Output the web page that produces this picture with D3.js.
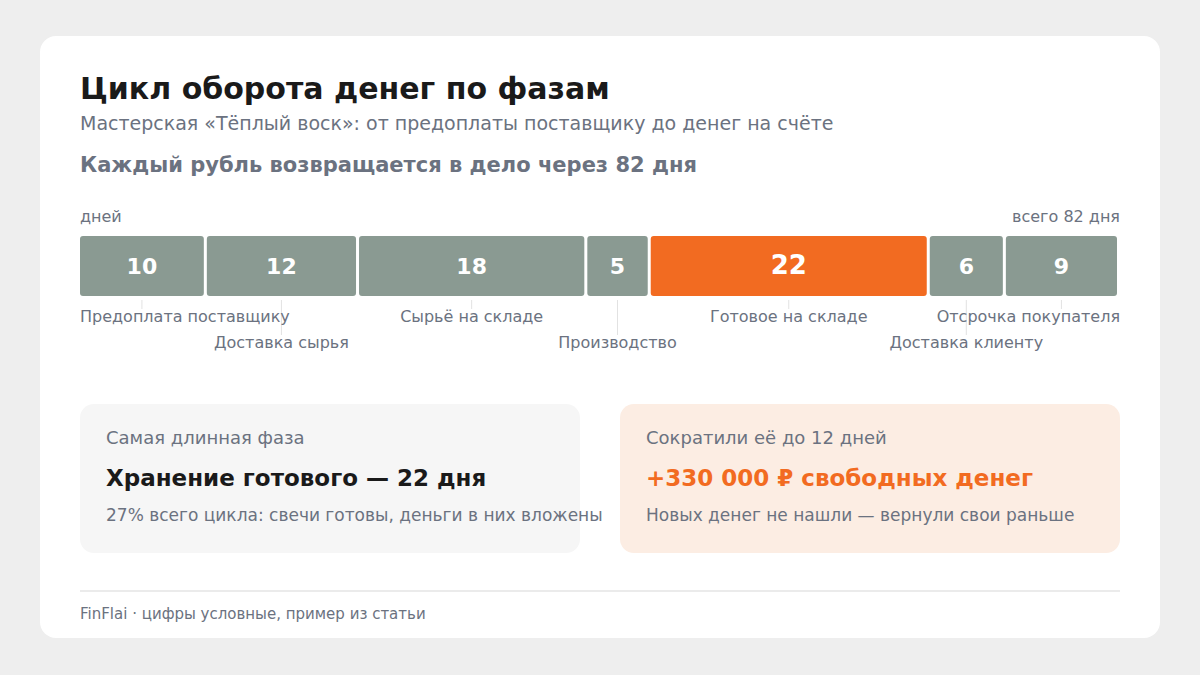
<!DOCTYPE html>
<html>
<head>
<meta charset="utf-8">
<script src="https://cdnjs.cloudflare.com/ajax/libs/d3/7.8.5/d3.min.js"></script>
<style>
  body { margin: 0; background: #eeeeee; }
  svg { display: block; font-family: "DejaVu Sans", sans-serif; }
</style>
</head>
<body>
<script>
// phases of the cash cycle, days
var phases = ["Предоплата поставщику", "Доставка сырья", "Сырьё на складе", "Производство",
              "Готовое на складе", "Доставка клиенту", "Отсрочка покупателя"];
var days = [10, 12, 18, 5, 22, 6, 9];
var highlight = "Готовое на складе";

var W = 1200, H = 675;
var left = 80, right = 1120;
var barTop = 236, barH = 60, gap = 3;

var grayText = "#6b7280";

var svg = d3.select("body").append("svg").attr("width", W).attr("height", H);

// card
svg.append("rect").attr("x", 40).attr("y", 36).attr("width", 1120).attr("height", 602)
    .attr("rx", 16).attr("fill", "#ffffff");

// headings
svg.append("text").attr("x", left).attr("y", 99)
    .attr("font-size", 30).attr("font-weight", "bold").attr("fill", "#1a1a1a")
    .text("Цикл оборота денег по фазам");
svg.append("text").attr("x", left).attr("y", 130)
    .attr("font-size", 19).attr("fill", grayText)
    .text("Мастерская «Тёплый воск»: от предоплаты поставщику до денег на счёте");
var total = d3.sum(days);
svg.append("text").attr("x", left).attr("y", 172)
    .attr("font-size", 21).attr("font-weight", "bold").attr("fill", grayText)
    .text("Каждый рубль возвращается в дело через " + total + " дня");

svg.append("text").attr("x", left).attr("y", 222)
    .attr("font-size", 16).attr("fill", grayText).text("дней");
svg.append("text").attr("x", right).attr("y", 222).attr("text-anchor", "end")
    .attr("font-size", 16).attr("fill", grayText).text("всего " + total + " дня");

// stacked positions
var starts = [];
var acc = 0;
days.forEach(function(d) { starts.push(acc); acc += d; });

var x = d3.scaleLinear().domain([0, total]).range([left, right]);

var rows = phases.map(function(p, i) {
    return { name: p, value: days[i], start: starts[i], i: i };
});

var g = svg.append("g");

g.selectAll("rect.bar")
    .data(rows)
    .enter()
    .append("rect")
    .attr("class", "bar")
    .attr("x", function(d) { return x(d.start); })
    .attr("y", barTop)
    .attr("width", function(d) { return x(d.start + d.value) - x(d.start) - gap; })
    .attr("height", barH)
    .attr("rx", 3)
    .attr("fill", function(d) { return d.name === highlight ? "#f26b21" : "#8a9a92"; });

g.selectAll("text.val")
    .data(rows)
    .enter()
    .append("text")
    .attr("class", "val")
    .attr("x", function(d) { return (x(d.start) + x(d.start + d.value) - gap) / 2; })
    .attr("y", function(d) { return barTop + barH / 2 + 8; })
    .attr("text-anchor", "middle")
    .attr("font-size", function(d) { return d.name === highlight ? 26 : 22; })
    .attr("font-weight", "bold")
    .attr("fill", "#ffffff")
    .text(function(d) { return d.value; });

// tick lines + labels, alternating rows
function cx(d) { return (x(d.start) + x(d.start + d.value) - gap) / 2; }

g.selectAll("line.tick")
    .data(rows)
    .enter()
    .append("line")
    .attr("class", "tick")
    .attr("x1", cx).attr("x2", cx)
    .attr("y1", barTop + barH + 4)
    .attr("y2", function(d) { return d.i % 2 ? 335 : 309; })
    .attr("stroke", "#e2e2e2").attr("stroke-width", 1);

var labels = g.selectAll("text.lbl")
    .data(rows)
    .enter()
    .append("text")
    .attr("class", "lbl")
    .attr("y", function(d) { return d.i % 2 ? 348 : 322; })
    .attr("font-size", 16)
    .attr("fill", grayText)
    .text(function(d) { return d.name; });

labels.each(function(d) {
    var w = this.getComputedTextLength();
    var x0 = cx(d) - w / 2;
    x0 = Math.max(left, Math.min(right - w, x0));
    d3.select(this).attr("x", x0);
});

// info cards
var cards = [
    { x: 80, fill: "#f6f6f6", label: "Самая длинная фаза",
      head: "Хранение готового — 22 дня", headFill: "#1a1a1a",
      sub: "27% всего цикла: свечи готовы, деньги в них вложены" },
    { x: 620, fill: "#fcede3", label: "Сократили её до 12 дней",
      head: "+330 000 ₽ свободных денег", headFill: "#f26b21",
      sub: "Новых денег не нашли — вернули свои раньше" }
];

cards.forEach(function(c) {
    svg.append("rect").attr("x", c.x).attr("y", 404).attr("width", 500).attr("height", 149)
        .attr("rx", 14).attr("fill", c.fill);
    svg.append("text").attr("x", c.x + 26).attr("y", 444)
        .attr("font-size", 18).attr("fill", grayText).text(c.label);
    svg.append("text").attr("x", c.x + 26).attr("y", 486)
        .attr("font-size", 23).attr("font-weight", "bold").attr("fill", c.headFill).text(c.head);
    svg.append("text").attr("x", c.x + 26).attr("y", 521)
        .attr("font-size", 17).attr("fill", grayText).text(c.sub);
});

// footer
svg.append("line").attr("x1", left).attr("x2", right).attr("y1", 591).attr("y2", 591)
    .attr("stroke", "#e5e5e5").attr("stroke-width", 1.5);
svg.append("text").attr("x", left).attr("y", 619)
    .attr("font-size", 15).attr("fill", grayText)
    .text("FinFlai · цифры условные, пример из статьи");
</script>
</body>
</html>
